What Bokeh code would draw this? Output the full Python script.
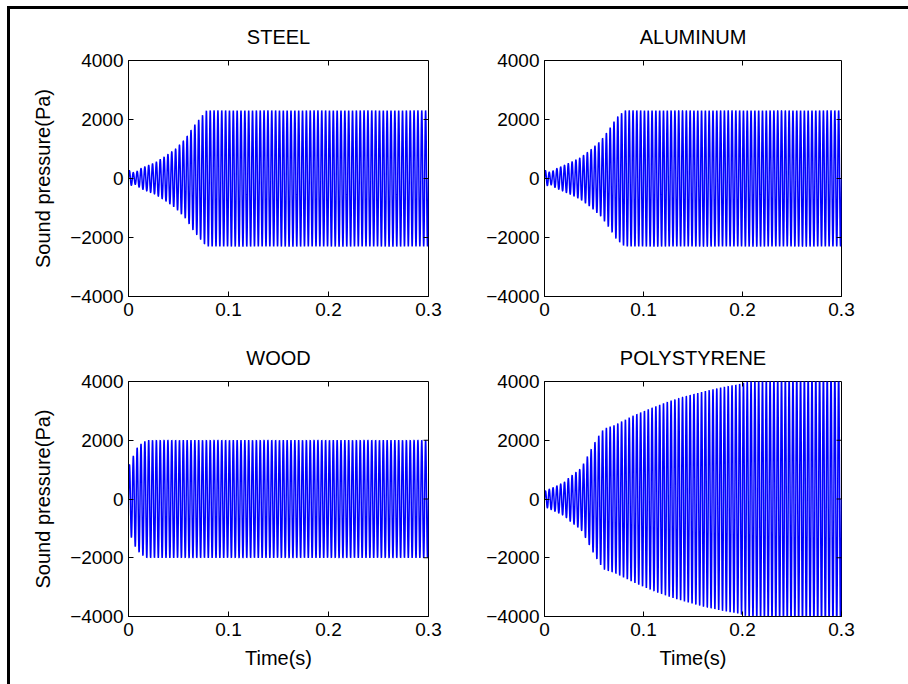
import numpy as np
from bokeh.plotting import figure
from bokeh.layouts import column, row
from bokeh.models import Range1d, FixedTicker
from bokeh.embed import file_html
from bokeh.resources import INLINE

# Panel titles, in grid order
materials = ["STEEL", "ALUMINUM", "WOOD", "POLYSTYRENE"]

# Axis ticks
x_ticks = [0, 0.1, 0.2, 0.3]
y_ticks = [-4000, -2000, 0, 2000, 4000]

# Pressure envelopes (time in s, peak amplitude in Pa)
steel_t = [0, 0.006, 0.013, 0.027, 0.037, 0.047, 0.057, 0.065, 0.073, 0.078, 0.3]
steel_a = [280, 180, 350, 540, 760, 1000, 1350, 1770, 2100, 2300, 2300]

aluminum_t = [0, 0.006, 0.012, 0.026, 0.036, 0.046, 0.057, 0.065, 0.073, 0.081, 0.3]
aluminum_a = [280, 200, 330, 535, 700, 950, 1285, 1650, 2070, 2300, 2300]

wood_t = [0, 0.004, 0.008, 0.013, 0.018, 0.3]
wood_a = [1100, 1390, 1720, 1890, 2000, 2000]

poly_t = [0, 0.0095, 0.02, 0.026, 0.037, 0.043, 0.05, 0.055, 0.06, 0.07,
          0.08, 0.094, 0.11, 0.128, 0.145, 0.162, 0.179, 0.196, 0.21, 0.3]
poly_a = [260, 400, 570, 760, 1045, 1420, 1875, 2160, 2390, 2500,
          2670, 2900, 3125, 3350, 3520, 3670, 3800, 3900, 4050, 4300]

envelopes = [(steel_t, steel_a), (aluminum_t, aluminum_a),
             (wood_t, wood_a), (poly_t, poly_a)]

drive_hz = 260.0       # excitation frequency
sample_hz = 20000.0    # sampling rate of the simulated signal

FONT = "Liberation Sans"
BLUE = "#0000ff"


def pressure_signal(env_t, env_a):
    t = np.arange(0.0, 0.3 + 0.5 / sample_hz, 1.0 / sample_hz)
    env = np.interp(t, env_t, env_a)
    return t, env * np.sin(2 * np.pi * drive_hz * t)


def style_axis(ax, ticks, standoff):
    ax.ticker = FixedTicker(ticks=ticks)
    ax.axis_line_color = "black"
    ax.major_tick_line_color = "black"
    ax.major_tick_in = 5
    ax.major_tick_out = 0
    ax.minor_tick_line_color = None
    ax.major_label_text_font = FONT
    ax.major_label_text_color = "black"
    ax.major_label_text_font_size = "19px"
    ax.major_label_standoff = standoff
    ax.axis_label_text_font = FONT
    ax.axis_label_text_font_size = "20px"
    ax.axis_label_text_font_style = "normal"
    ax.axis_label_text_color = "black"


def panel(idx, frame_w, frame_h, bl, br, bt, bb, ylabel, xlabel):
    p = figure(frame_width=frame_w, frame_height=frame_h,
               x_range=Range1d(0, 0.3), y_range=Range1d(-4000, 4000),
               output_backend="svg", toolbar_location=None,
               min_border_left=bl, min_border_right=br,
               min_border_top=bt, min_border_bottom=bb,
               background_fill_color="white", border_fill_color="white",
               outline_line_color="black", outline_line_width=1)
    p.grid.visible = False
    p.title.text = materials[idx]
    p.title.text_font = FONT
    p.title.text_font_size = "20px"
    p.title.text_font_style = "normal"
    p.title.text_color = "black"
    p.title.align = "center"
    p.title.standoff = 26

    style_axis(p.xaxis[0], x_ticks, 6)
    style_axis(p.yaxis[0], y_ticks, 5)
    p.xaxis[0].major_label_overrides = {0: "0", 0.1: "0.1", 0.2: "0.2", 0.3: "0.3"}

    if ylabel:
        p.yaxis[0].axis_label = "Sound pressure(Pa)"
        p.yaxis[0].axis_label_standoff = 13
    if xlabel:
        p.xaxis[0].axis_label = "Time(s)"
        p.xaxis[0].axis_label_standoff = 8

    t, y = pressure_signal(*envelopes[idx])
    p.line(t, y, line_color=BLUE, line_width=1.5)

    # inward tick marks on the top and right edges of the box
    p.scatter(x=x_ticks[1:-1], y=[y_ticks[-1]] * (len(x_ticks) - 2),
              marker="dash", angle=np.pi / 2, size=10,
              line_color="black", line_width=1)
    p.scatter(x=[x_ticks[-1]] * (len(y_ticks) - 2), y=y_ticks[1:-1],
              marker="dash", size=10, line_color="black", line_width=1)
    return p


p_steel = panel(0, 300, 236, 118, 55, 51, 35, True, False)
p_alu = panel(1, 297, 236, 54, 74, 51, 35, False, False)
p_wood = panel(2, 300, 235, 118, 55, 43, 68, True, True)
p_poly = panel(3, 297, 235, 54, 74, 43, 68, False, True)

page = column(row(p_steel, p_alu, spacing=0), row(p_wood, p_poly, spacing=0),
              spacing=0, margin=(6, 0, 0, 7),
              styles={"border-left": "3px solid black",
                      "border-top": "3px solid black",
                      "background-color": "white"})

open("out.html", "w").write(file_html(page, INLINE))
